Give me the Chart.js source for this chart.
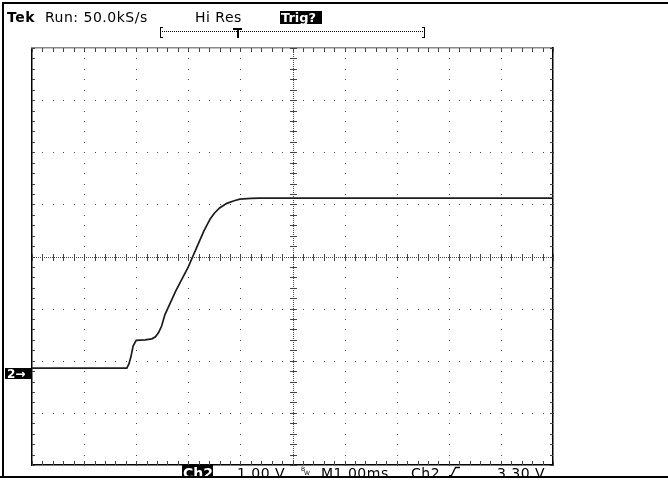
<!DOCTYPE html>
<html>
<head>
<meta charset="utf-8">
<script src="https://cdn.jsdelivr.net/npm/chart.js@4"></script>
<style>
  body { margin: 0; background: #fff; }
  canvas { display: block; }
</style>
</head>
<body>
<canvas id="scope" width="668" height="485"></canvas>
<script>
// trace, in divisions: 1 ms/div across, 1 V/div up, 0 = screen centre
const timeDiv = [0, 1.82, 1.86, 1.90, 1.94, 2.00, 2.17, 2.30, 2.37, 2.43, 2.49, 2.55, 2.76, 3.00, 3.16, 3.30, 3.42, 3.50, 3.60, 3.74, 3.88, 3.99, 4.20, 4.38, 10];
const traceDiv = [-2.14, -2.14, -2.06, -1.92, -1.72, -1.61, -1.60, -1.58, -1.54, -1.46, -1.33, -1.12, -0.66, -0.20, 0.17, 0.49, 0.72, 0.83, 0.93, 1.02, 1.07, 1.10, 1.115, 1.12, 1.12];
const groundDiv = -2.14;

const headText = ['Tek', 'Run: 50.0kS/s', 'Hi Res', 'Trig?'];
const footText = ['Ch2', '1.00 V', 'BW', 'M1.00ms', 'Ch2', '3.30 V'];
const channelMark = '2\u2192';

const FONT = '"DejaVu Sans", sans-serif';

function graticule(chart) {
  const ctx = chart.ctx;
  const xs = chart.scales.x, ys = chart.scales.y;
  const area = chart.chartArea;
  const px = v => Math.round(xs.getPixelForValue(v));
  const py = v => Math.round(ys.getPixelForValue(v));
  ctx.save();
  ctx.fillStyle = '#444';
  // dotted division lines
  for (let i = 1; i < 10; i++) {
    if (i === 5) continue;
    for (let j = 0; j <= 40; j++) ctx.fillRect(px(i), py(-4 + j * 0.2), 1, 1);
  }
  for (let j = -3; j <= 3; j++) {
    if (j === 0) continue;
    for (let i = 0; i <= 50; i++) ctx.fillRect(px(i * 0.2), py(j), 1, 1);
  }
  // centre cross with minor ticks
  const cx = px(5), cy = py(0);
  for (let x = Math.round(area.left); x < area.right; x += 2) ctx.fillRect(x, cy, 1, 1);
  for (let y = Math.round(area.top); y < area.bottom; y += 2) ctx.fillRect(cx, y, 1, 1);
  for (let i = 0; i <= 50; i++) ctx.fillRect(px(i * 0.2), cy - 3, 1, 7);
  for (let j = 0; j <= 40; j++) ctx.fillRect(cx - 3, py(-4 + j * 0.2), 7, 1);
  // ticks along the edges
  const t = Math.round(area.top), b = Math.round(area.bottom);
  const l = Math.round(area.left), r = Math.round(area.right);
  for (let i = 0; i <= 50; i++) {
    ctx.fillRect(px(i * 0.2), t, 1, 4);
    ctx.fillRect(px(i * 0.2), b - 4, 1, 4);
  }
  for (let j = 0; j <= 40; j++) {
    ctx.fillRect(l, py(-4 + j * 0.2), 3, 1);
    ctx.fillRect(r - 3, py(-4 + j * 0.2), 3, 1);
  }
  ctx.restore();
}

function readouts(chart) {
  const ctx = chart.ctx;
  const ys = chart.scales.y;
  ctx.save();
  ctx.fillStyle = '#000';
  // outer frame
  ctx.fillRect(2, 2, 666, 2);
  ctx.fillRect(2, 2, 2, 476);
  ctx.fillRect(0, 476, 668, 2);

  ctx.textBaseline = 'alphabetic';
  ctx.letterSpacing = '0.5px';
  ctx.font = 'bold 14px ' + FONT;
  ctx.fillText(headText[0], 7, 22);
  ctx.font = '14px ' + FONT;
  ctx.fillText(headText[1], 45, 22);
  ctx.fillText(headText[2], 195, 22);
  ctx.fillRect(280, 11, 42, 13);
  ctx.fillStyle = '#fff';
  ctx.letterSpacing = '0px';
  ctx.font = 'bold 13px ' + FONT;
  ctx.fillText(headText[3], 281, 22);

  // record window bracket with trigger point
  ctx.fillStyle = '#000';
  ctx.fillRect(160, 27, 1, 11);
  ctx.fillRect(160, 27, 3, 1);
  ctx.fillRect(160, 37, 3, 1);
  for (let x = 162; x < 424; x += 2) ctx.fillRect(x, 31, 1, 1);
  ctx.fillRect(424, 27, 1, 11);
  ctx.fillRect(422, 27, 3, 1);
  ctx.fillRect(422, 37, 3, 1);
  ctx.fillRect(233, 28, 9, 2);
  ctx.fillRect(237, 28, 2, 10);

  // channel ground marker
  const gy = Math.round(ys.getPixelForValue(groundDiv));
  ctx.fillRect(5, gy, 26, 11);
  ctx.fillStyle = '#fff';
  ctx.font = 'bold 12px ' + FONT;
  ctx.fillText(channelMark, 7, gy + 10);

  // bottom readout, clipped by the frame line
  ctx.save();
  ctx.beginPath();
  ctx.rect(0, 464, 668, 12);
  ctx.clip();
  ctx.fillStyle = '#000';
  ctx.fillRect(182, 465, 31, 12);
  ctx.fillStyle = '#fff';
  ctx.font = 'bold 14px ' + FONT;
  ctx.fillText(footText[0], 183, 478);
  ctx.fillStyle = '#000';
  ctx.letterSpacing = '0.5px';
  ctx.font = '14px ' + FONT;
  ctx.fillText(footText[1], 237, 478);
  ctx.fillText(footText[3], 321, 478);
  ctx.fillText(footText[4], 411, 478);
  ctx.fillText(footText[5], 497, 478);
  ctx.letterSpacing = '0px';
  ctx.font = '6px ' + FONT;
  ctx.fillText(footText[2][0], 301, 471);
  ctx.fillText(footText[2][1], 304, 475);
  // rising edge symbol
  ctx.fillRect(449, 475, 3, 1);
  ctx.beginPath();
  ctx.moveTo(451.5, 475.5);
  ctx.lineTo(455.5, 467.5);
  ctx.lineTo(460, 467.5);
  ctx.lineWidth = 1.3;
  ctx.strokeStyle = '#000';
  ctx.stroke();
  ctx.restore();
  ctx.restore();
}

const scopeScreen = {
  id: 'scopeScreen',
  beforeDatasetsDraw: graticule,
  afterDraw: readouts
};

const hiddenAxis = (pos, min, max, color) => ({
  type: 'linear',
  position: pos,
  min: min,
  max: max,
  ticks: { display: false },
  grid: { display: false, drawTicks: false },
  border: { display: true, color: color, width: 1.5 }
});

new Chart(document.getElementById('scope'), {
  type: 'line',
  data: {
    datasets: [{
      data: timeDiv.map((t, i) => ({ x: t, y: traceDiv[i] })),
      borderColor: '#1c1c1c',
      borderWidth: 1.7,
      pointRadius: 0,
      tension: 0,
      fill: false
    }]
  },
  options: {
    responsive: false,
    animation: false,
    devicePixelRatio: 1,
    layout: { padding: { left: 32, top: 48, right: 115, bottom: 20 } },
    plugins: { legend: { display: false }, tooltip: { enabled: false } },
    scales: {
      x: hiddenAxis('bottom', 0, 10, '#000'),
      y: hiddenAxis('left', -4, 4, '#000'),
      x2: hiddenAxis('top', 0, 10, '#888'),
      y2: hiddenAxis('right', -4, 4, '#000')
    }
  },
  plugins: [scopeScreen]
});
</script>
</body>
</html>
